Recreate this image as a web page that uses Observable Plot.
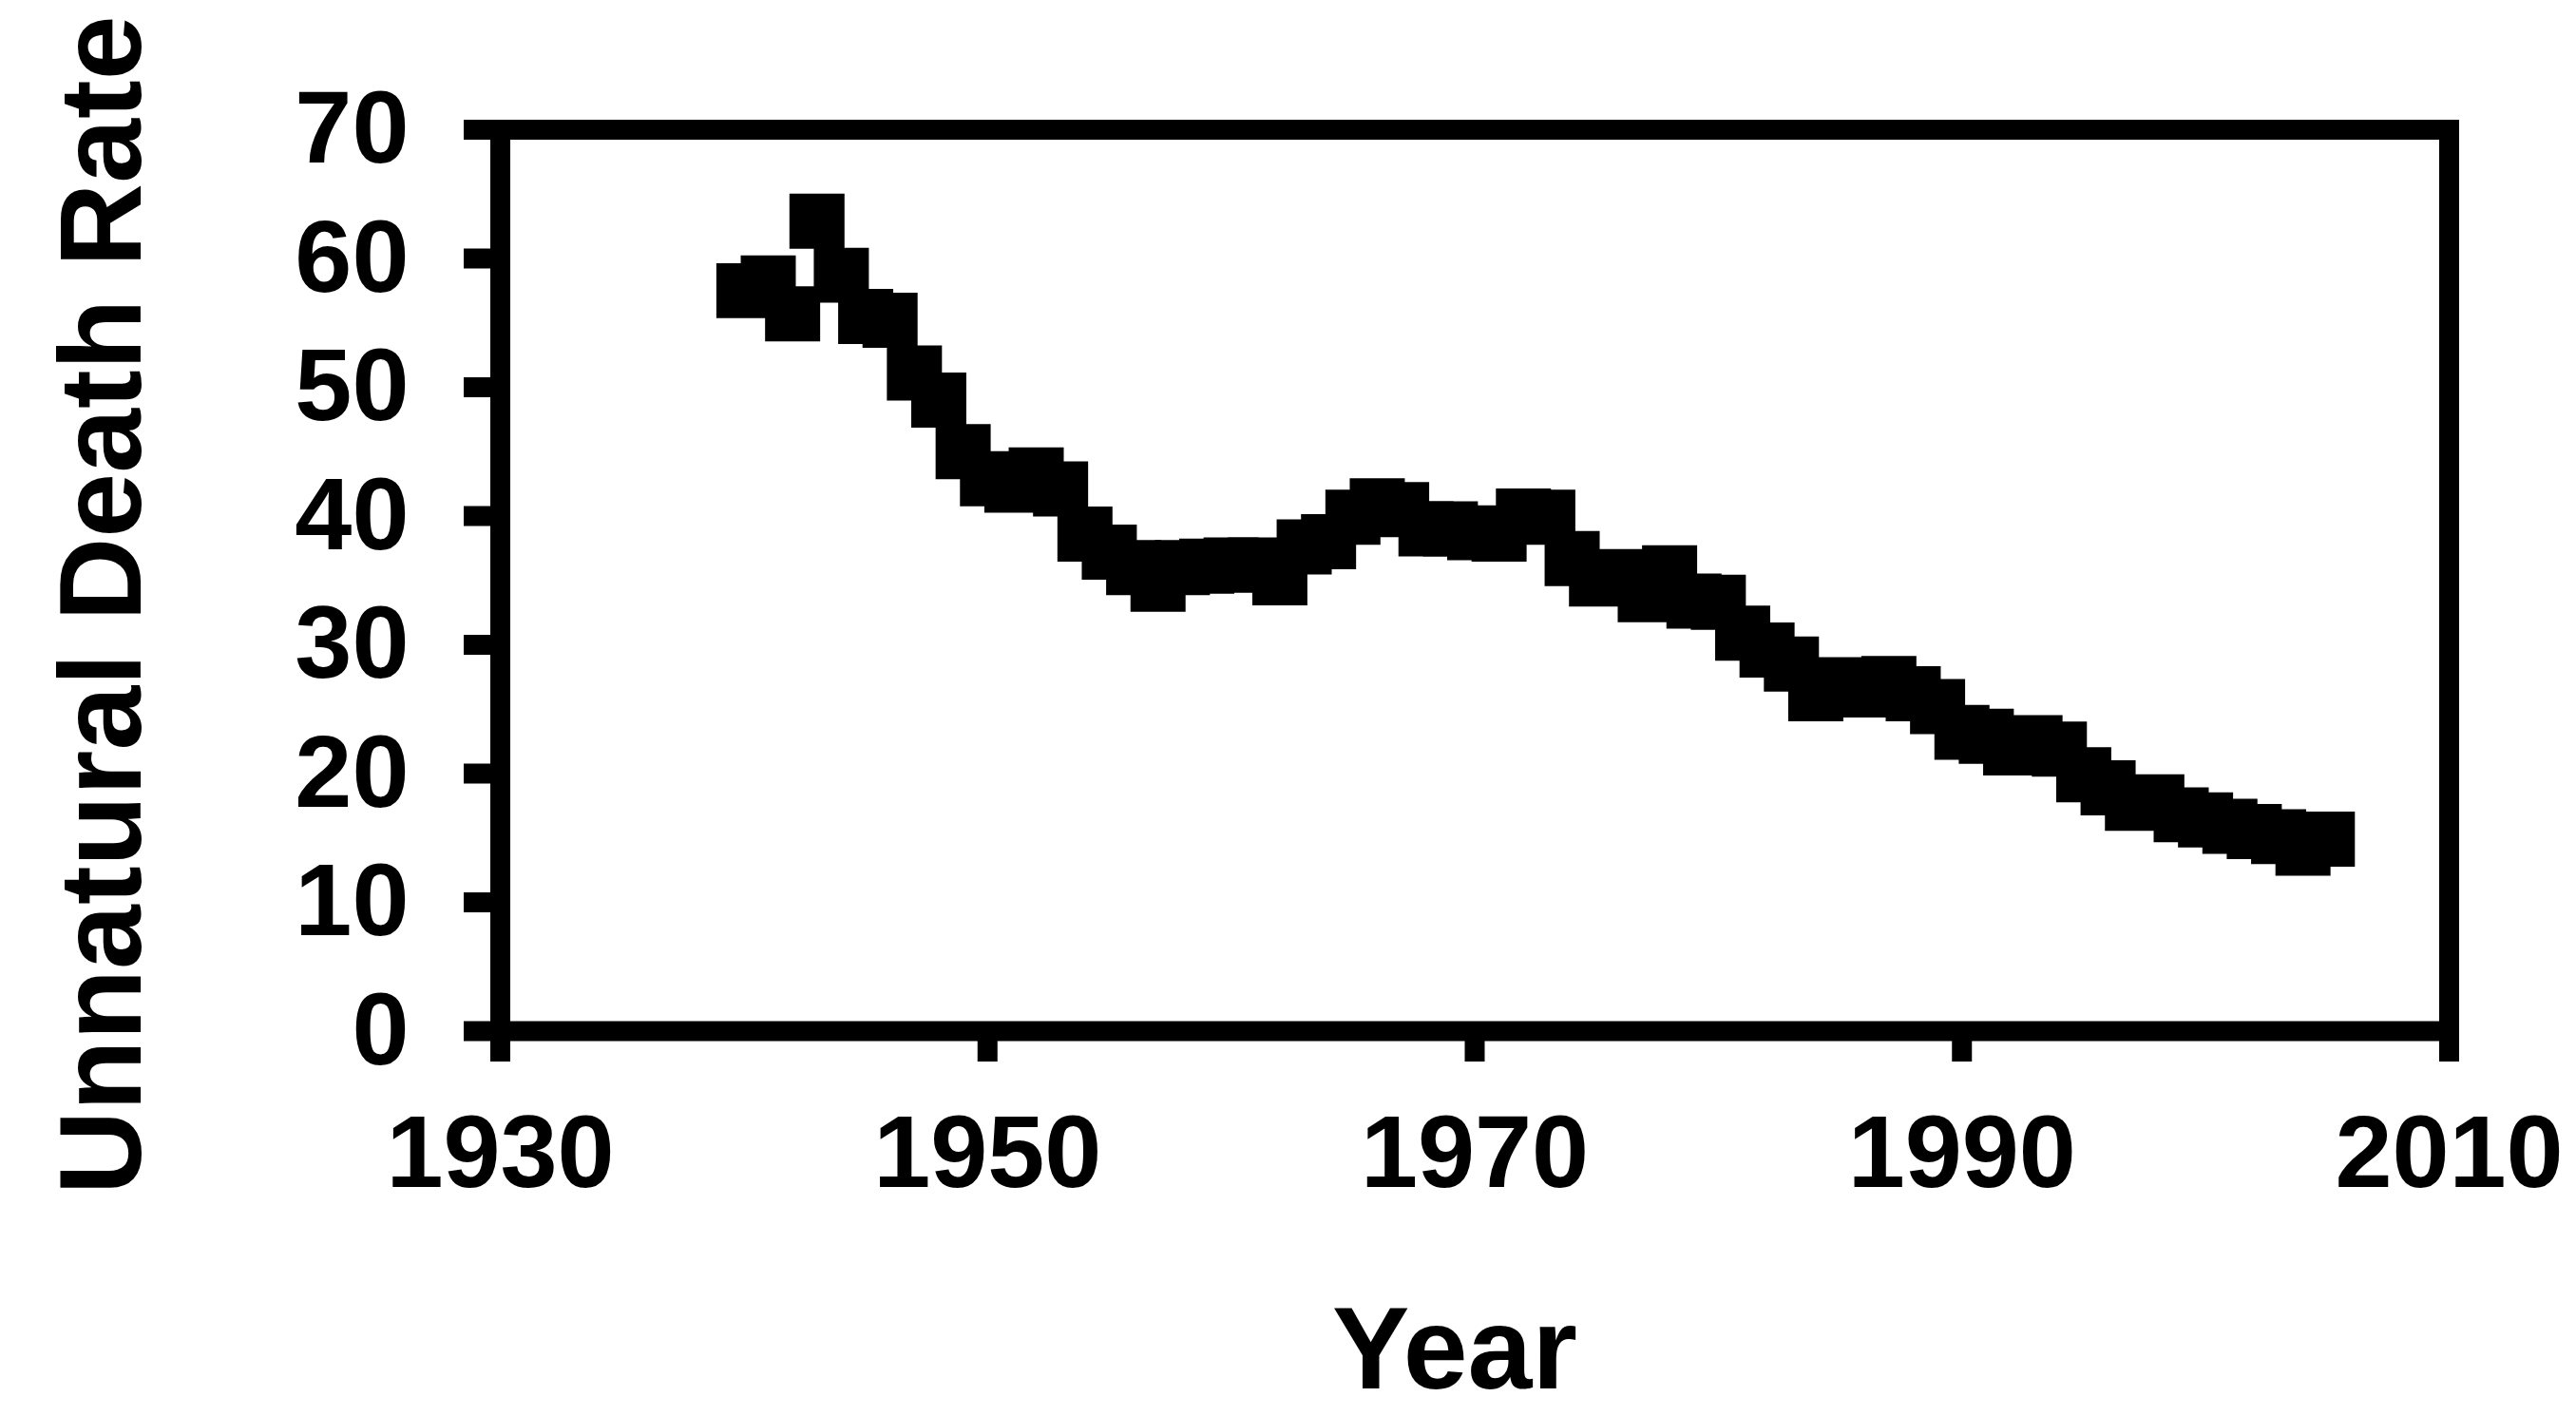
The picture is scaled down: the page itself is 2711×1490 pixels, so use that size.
<!DOCTYPE html>
<html>
<head>
<meta charset="utf-8">
<script src="https://cdn.jsdelivr.net/npm/d3@7"></script>
<script src="https://cdn.jsdelivr.net/npm/@observablehq/plot@0.6"></script>
<style>
  html, body { margin: 0; padding: 0; background: #ffffff; }
  #chart svg { display: block; overflow: visible; }
</style>
</head>
<body>
<div id="chart"></div>
<script>
// ---- Data ----
const years = [1940, 1941, 1942, 1943, 1944, 1945, 1946, 1947, 1948, 1949,
               1950, 1951, 1952, 1953, 1954, 1955, 1956, 1957, 1958, 1959,
               1960, 1961, 1962, 1963, 1964, 1965, 1966, 1967, 1968, 1969,
               1970, 1971, 1972, 1973, 1974, 1975, 1976, 1977, 1978, 1979,
               1980, 1981, 1982, 1983, 1984, 1985, 1986, 1987, 1988, 1989,
               1990, 1991, 1992, 1993, 1994, 1995, 1996, 1997, 1998, 1999,
               2000, 2001, 2002, 2003, 2004, 2005];
const rates = [57.5, 58.1, 55.7, 62.9, 58.7, 55.5, 55.2, 51.1, 49.0, 45.0,
               42.9, 42.4, 43.2, 42.1, 38.6, 37.2, 36.0, 34.7, 36.0, 36.1,
               36.2, 36.2, 35.2, 37.6, 38.0, 39.9, 40.8, 40.5, 39.0, 39.0,
               38.7, 38.6, 40.0, 39.9, 36.7, 35.1, 35.3, 33.9, 35.6, 33.4,
               33.3, 30.9, 29.6, 28.5, 26.2, 26.9, 26.5, 27.0, 26.2, 25.2,
               23.2, 22.9, 22.0, 22.4, 21.9, 19.9, 18.9, 17.7, 17.8, 16.8,
               16.4, 15.9, 15.5, 15.1, 14.2, 14.9];
const xTicks = [1930, 1950, 1970, 1990, 2010];
const yTicks = [0, 10, 20, 30, 40, 50, 60, 70];
const xLabel = "Year";
const yLabel = "Unnatural Death Rate";

const table = years.map((year, i) => ({year, rate: rates[i]}));

const W = 2711, H = 1490;
const mL = 526, mR = W - 2577, mT = 136, mB = H - 1084.5;
const LW = 21;               // axis / frame line width
const tickFont = 108;
const titleFont = 122;

const chart = Plot.plot({
  width: W,
  height: H,
  marginLeft: mL,
  marginRight: mR,
  marginTop: mT,
  marginBottom: mB,
  style: {
    fontFamily: "'Liberation Sans', Arial, Helvetica, sans-serif",
    fontWeight: "bold",
    background: "#ffffff",
    color: "#000000"
  },
  x: {domain: [1930, 2010]},
  y: {domain: [0, 70]},
  marks: [
    Plot.dot(table, {
      x: "year", y: "rate",
      symbol: "square", r: 32.7,
      fill: "#000000", stroke: "none"
    }),
    Plot.frame({stroke: "#000000", strokeWidth: LW}),
    Plot.axisY(yTicks, {
      tickSize: 38, tickPadding: 58,
      strokeWidth: LW, stroke: "#000000",
      fontSize: tickFont, fontWeight: "bold",
      tickFormat: d => String(d),
      label: null
    }),
    Plot.axisX(xTicks, {
      tickSize: 32.5, tickPadding: 55,
      strokeWidth: LW, stroke: "#000000",
      fontSize: tickFont, fontWeight: "bold",
      tickFormat: d => String(d),
      label: null
    }),
    Plot.text([xLabel], {
      frameAnchor: "bottom", text: d => d,
      dx: -21, dy: 375.5, lineAnchor: "bottom", textAnchor: "middle",
      fontSize: titleFont, fontWeight: "bold", fill: "#000000"
    }),
    Plot.text([yLabel], {
      frameAnchor: "left", text: d => d,
      dx: -(mL - 108), dy: 26, rotate: -90,
      textAnchor: "middle", lineAnchor: "middle",
      fontSize: titleFont, fontWeight: "bold", fill: "#000000"
    })
  ]
});

document.getElementById("chart").appendChild(chart);
</script>
</body>
</html>
